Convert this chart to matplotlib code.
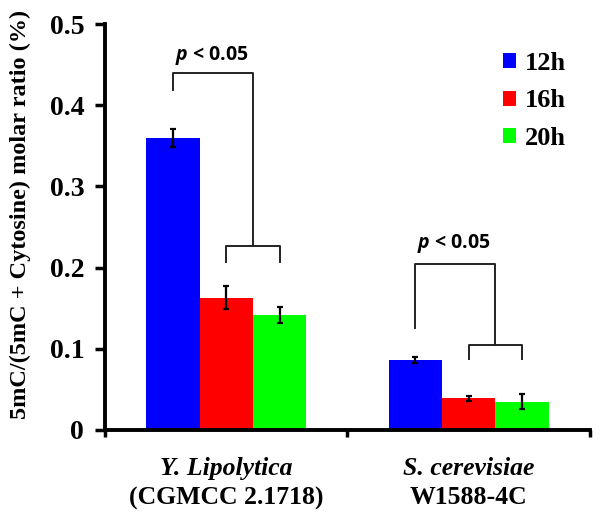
import matplotlib.pyplot as plt
import numpy as np

# data
species = ['Y. Lipolytica', 'S. cerevisiae']
strains = ['(CGMCC 2.1718)', 'W1588-4C']
times = ['12h', '16h', '20h']
colors = ['#0000ff', '#ff0000', '#00ff00']
vals = {
    '12h': [0.360, 0.086],
    '16h': [0.163, 0.039],
    '20h': [0.142, 0.035],
}
errs = {
    '12h': [0.011, 0.004],
    '16h': [0.014, 0.003],
    '20h': [0.010, 0.009],
}

plt.rcParams['font.family'] = ['Liberation Serif', 'DejaVu Serif']
plt.rcParams['mathtext.fontset'] = 'custom'
plt.rcParams['mathtext.bfit'] = 'Open Sans:italic:bold'

fig = plt.figure(figsize=(6.01, 5.21), dpi=100)
ax = fig.add_axes([0.1747, 0.1747, 0.807, 0.779])

x = np.arange(len(species))
w = 0.22
for i, t in enumerate(times):
    ax.bar(x + (i - 1) * w, vals[t], w, color=colors[i], label=t)
    ax.errorbar(x + (i - 1) * w, vals[t], yerr=errs[t], fmt='none',
                ecolor='black', elinewidth=1.6, capsize=2.5, capthick=1.6)

# significance brackets
def bracket(xc, y_a, y_top, y_sub, y_leg, text_y):
    lk = dict(color='#222222', lw=1.4)
    b, r, g = xc - w, xc, xc + w
    mid = (r + g) / 2
    ax.plot([b, b, mid, mid], [y_a, y_top, y_top, y_sub], **lk)
    ax.plot([r, r, g, g], [y_leg, y_sub, y_sub, y_leg], **lk)
    ax.text((b + mid) / 2 - 0.005, text_y, '$\\bfit{p}$ < 0.05', ha='center', va='center',
            fontsize=14, fontweight='bold', family=['Open Sans', 'DejaVu Sans'])

bracket(0, 0.419, 0.440, 0.227, 0.207, 0.461)
bracket(1, 0.126, 0.204, 0.105, 0.087, 0.230)

ax.set_xlim(-0.5, 1.5)
ax.set_ylim(0, 0.5)
ax.set_yticks([0, 0.1, 0.2, 0.3, 0.4, 0.5])
ax.set_yticklabels(['0', '0.1', '0.2', '0.3', '0.4', '0.5'], fontsize=20, fontweight='bold')
ax.set_xticks(x)
ax.set_xticklabels(['', ''])
ax.tick_params(axis='x', length=0)
ax.set_xticks([-0.5, 0.5, 1.5], minor=True)
ax.tick_params(axis='x', which='minor', length=5, width=2.5, direction='out')
ax.tick_params(axis='y', length=7, width=2.5, direction='out', pad=8)

# two-line category labels: italic species, upright strain
for xi, sp, st in zip(x, species, strains):
    ax.annotate(sp, (xi, 0), xycoords=('data', 'axes fraction'), xytext=(0, -39),
                textcoords='offset pixels', ha='center', va='center',
                fontsize=18.5, fontweight='bold', style='italic')
    ax.annotate(st, (xi, 0), xycoords=('data', 'axes fraction'), xytext=(0, -68),
                textcoords='offset pixels', ha='center', va='center',
                fontsize=18.5, fontweight='bold')

for s in ['top', 'right']:
    ax.spines[s].set_visible(False)
for s in ['left', 'bottom']:
    ax.spines[s].set_linewidth(2.8)

ax.set_ylabel('5mC/(5mC + Cytosine) molar ratio (%)', fontsize=17.5, fontweight='bold')
ax.yaxis.set_label_coords(-0.152, 0.53)

ax.legend(loc='upper right', bbox_to_anchor=(1.0, 0.99), frameon=False, handlelength=0.5,
          handleheight=0.5, handletextpad=0.35, labelspacing=0.55,
          prop={'family': 'Liberation Serif', 'weight': 'bold', 'size': 19})

fig.savefig('out.png', dpi=100)
